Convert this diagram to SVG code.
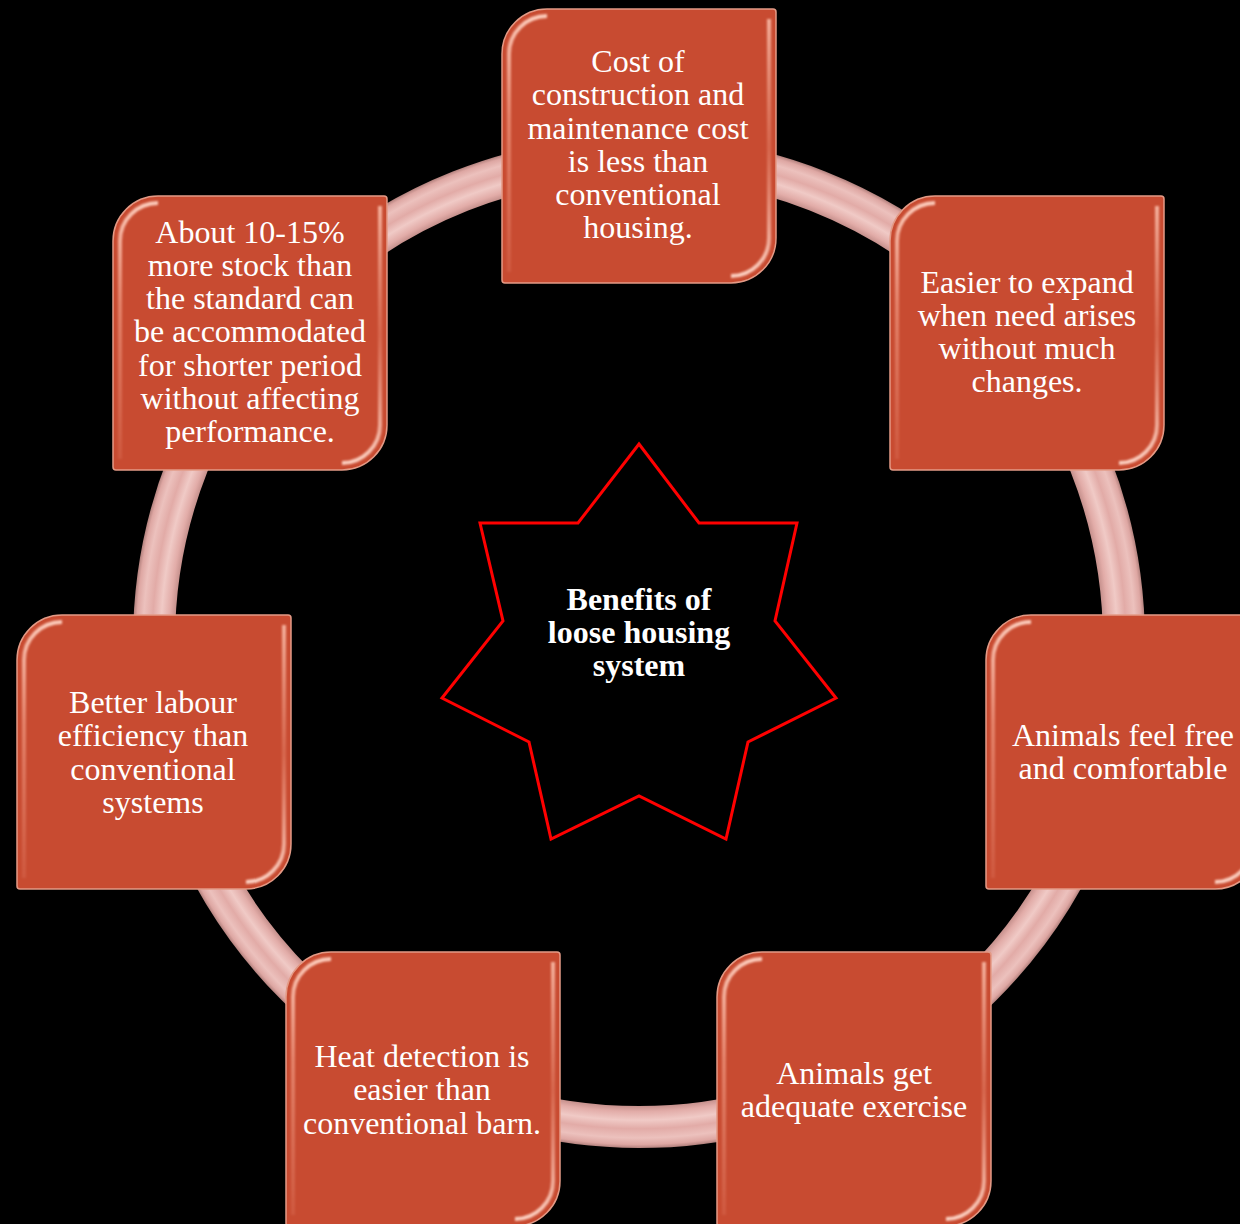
<svg xmlns="http://www.w3.org/2000/svg" xmlns:xlink="http://www.w3.org/1999/xlink" width="1240" height="1224" viewBox="0 0 1240 1224">
<defs>
<radialGradient id="ringG" gradientUnits="userSpaceOnUse" cx="639" cy="642" r="506">
<stop offset="0.915" stop-color="#C08B87"/>
<stop offset="0.928" stop-color="#E2ACA8"/>
<stop offset="0.945" stop-color="#F0CAC6"/>
<stop offset="0.962" stop-color="#E2ABA7"/>
<stop offset="0.98" stop-color="#ECC1BD"/>
<stop offset="0.993" stop-color="#DEA7A3"/>
<stop offset="1" stop-color="#B3827E"/>
</radialGradient>
<linearGradient id="hlL" x1="0" y1="0" x2="0" y2="1">
<stop offset="0" stop-color="#FFD2C2" stop-opacity="0.95"/>
<stop offset="0.4" stop-color="#F6A68F" stop-opacity="0.6"/>
<stop offset="1" stop-color="#F6A68F" stop-opacity="0.15"/>
</linearGradient>
<linearGradient id="hlR" x1="0" y1="0" x2="0" y2="1">
<stop offset="0" stop-color="#FFC9B6" stop-opacity="0.8"/>
<stop offset="0.5" stop-color="#F09A82" stop-opacity="0.35"/>
<stop offset="1" stop-color="#FFD8CA" stop-opacity="0.95"/>
</linearGradient>
<filter id="soft" x="-10%" y="-10%" width="120%" height="120%">
<feGaussianBlur stdDeviation="1.2"/>
</filter>
<g id="box">
<path class="bx" d="M-137,-92 A45,45 0 0 1 -92,-137 L134,-137 Q137,-137 137,-134 L137,92 A45,45 0 0 1 92,137 L-134,137 Q-137,137 -137,134 Z"/>
<g filter="url(#soft)">
<path d="M-130,126 L-130,-92 A38,38 0 0 1 -92,-130" fill="none" stroke="url(#hlL)" stroke-width="4"/>
<path d="M130,-127 L130,92 A38,38 0 0 1 92,130" fill="none" stroke="url(#hlR)" stroke-width="4"/>
</g>
</g>
</defs>
<style>
.bx{fill:#C84B31;stroke:#E39A86;stroke-width:1.5}
.t{font-family:"Liberation Serif","Times New Roman",serif;font-size:32px;fill:#FFFFFF;text-anchor:middle}
.c{font-family:"Liberation Serif","Times New Roman",serif;font-size:32px;font-weight:bold;fill:#FFFFFF;text-anchor:middle}
</style>
<rect x="0" y="0" width="1240" height="1224" fill="#000000"/>
<g id="connectors">
<circle cx="639" cy="642" r="485" fill="none" stroke="url(#ringG)" stroke-width="42"/>
</g>
<g id="node0">
<use xlink:href="#box" transform="translate(639,146)"/>
<text class="t" x="638" y="72">Cost of</text>
<text class="t" x="638" y="105">construction and</text>
<text class="t" x="638" y="139">maintenance cost</text>
<text class="t" x="638" y="172">is less than</text>
<text class="t" x="638" y="205">conventional</text>
<text class="t" x="638" y="238">housing.</text>
</g>
<g id="node1">
<use xlink:href="#box" transform="translate(1027,333)"/>
<text class="t" x="1027" y="293">Easier to expand</text>
<text class="t" x="1027" y="326">when need arises</text>
<text class="t" x="1027" y="359">without much</text>
<text class="t" x="1027" y="392">changes.</text>
</g>
<g id="node2">
<use xlink:href="#box" transform="translate(1123,752)"/>
<text class="t" x="1123" y="746">Animals feel free</text>
<text class="t" x="1123" y="779">and comfortable</text>
</g>
<g id="node3">
<use xlink:href="#box" transform="translate(854,1089)"/>
<text class="t" x="854" y="1084">Animals get</text>
<text class="t" x="854" y="1117">adequate exercise</text>
</g>
<g id="node4">
<use xlink:href="#box" transform="translate(423,1089)"/>
<text class="t" x="422" y="1067">Heat detection is</text>
<text class="t" x="422" y="1100">easier than</text>
<text class="t" x="422" y="1134">conventional barn.</text>
</g>
<g id="node5">
<use xlink:href="#box" transform="translate(154,752)"/>
<text class="t" x="153" y="713">Better labour</text>
<text class="t" x="153" y="746">efficiency than</text>
<text class="t" x="153" y="780">conventional</text>
<text class="t" x="153" y="813">systems</text>
</g>
<g id="node6">
<use xlink:href="#box" transform="translate(250,333)"/>
<text class="t" x="250" y="243">About 10-15%</text>
<text class="t" x="250" y="276">more stock than</text>
<text class="t" x="250" y="309">the standard can</text>
<text class="t" x="250" y="342">be accommodated</text>
<text class="t" x="250" y="376">for shorter period</text>
<text class="t" x="250" y="409">without affecting</text>
<text class="t" x="250" y="442">performance.</text>
</g>
<g id="center">
<polygon points="639,444 699,523 797,523 775,621 836,698 748,742 726,839 639,796 551,839 529,742 442,698 503,621 480,523 578,523" fill="#000000" stroke="#FF0000" stroke-width="3"/>
<text class="c" x="639" y="610">Benefits of</text>
<text class="c" x="639" y="643">loose housing</text>
<text class="c" x="639" y="676">system</text>
</g>
</svg>
